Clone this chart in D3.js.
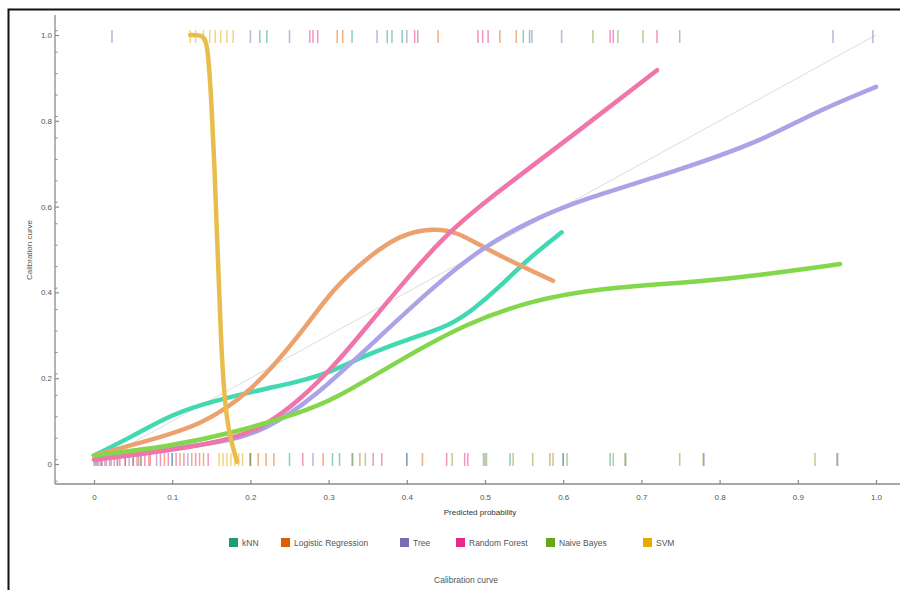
<!DOCTYPE html>
<html>
<head>
<meta charset="utf-8">
<script src="https://cdn.jsdelivr.net/npm/d3@7"></script>
<style>
  html, body { margin: 0; padding: 0; background: #fff; }
  svg { display: block; font-family: "Liberation Sans", Arial, sans-serif; }
</style>
</head>
<body>
<svg id="chart" width="900" height="590"></svg>
<script>
// Model names and colours
const models = ["kNN", "Logistic Regression", "Tree", "Random Forest", "Naive Bayes", "SVM"];
const swatchColors = ["#1b9e77", "#d95f02", "#7570b3", "#e7298a", "#66a61e", "#e6ab02"];
const curveColors  = ["#40d9b1", "#eca26f", "#aaa4e7", "#ef75ab", "#84d74d", "#e9bd4d"];

// Smoothed calibration curves: predicted probability (x) vs observed frequency (y)
const knnX  = [0, 0.05, 0.1, 0.157, 0.221, 0.263, 0.3, 0.349, 0.4, 0.455, 0.485, 0.519, 0.553, 0.598];
const knnY  = [0.02, 0.065, 0.117, 0.149, 0.176, 0.193, 0.212, 0.255, 0.29, 0.322, 0.36, 0.413, 0.475, 0.54];
const lrX   = [0, 0.072, 0.136, 0.2, 0.263, 0.306, 0.349, 0.391, 0.434, 0.464, 0.497, 0.541, 0.587];
const lrY   = [0.02, 0.056, 0.09, 0.165, 0.3, 0.41, 0.48, 0.535, 0.55, 0.541, 0.506, 0.466, 0.427];
const treeX = [0, 0.093, 0.178, 0.22, 0.276, 0.37, 0.434, 0.497, 0.561, 0.621, 0.749, 0.856, 0.919, 1.0];
const treeY = [0.02, 0.033, 0.055, 0.082, 0.145, 0.305, 0.413, 0.506, 0.569, 0.615, 0.685, 0.755, 0.818, 0.879];
const rfX   = [0, 0.093, 0.178, 0.22, 0.263, 0.306, 0.349, 0.391, 0.447, 0.502, 0.621, 0.72];
const rfY   = [0.01, 0.03, 0.058, 0.09, 0.149, 0.226, 0.32, 0.413, 0.53, 0.615, 0.778, 0.918];
const nbX   = [0, 0.093, 0.178, 0.263, 0.306, 0.391, 0.477, 0.561, 0.647, 0.775, 0.85, 0.954];
const nbY   = [0.02, 0.04, 0.072, 0.119, 0.149, 0.242, 0.329, 0.382, 0.41, 0.425, 0.44, 0.466];
const svmX  = [0.123, 0.135, 0.142, 0.146, 0.15, 0.154, 0.158, 0.162, 0.167, 0.174, 0.183];
const svmY  = [1.0, 1.0, 0.995, 0.96, 0.85, 0.7, 0.5, 0.3, 0.14, 0.06, 0.005];

// Rug marks: predicted probabilities of positive (top) and negative (bottom) cases
const knnTop  = [0.212, 0.221, 0.33, 0.375, 0.381, 0.394, 0.549, 0.557];
const lrTop   = [0.311, 0.318, 0.44, 0.519, 0.54];
const treeTop = [0.023, 0.2, 0.25, 0.362, 0.4, 0.56, 0.598, 0.749, 0.945, 0.996];
const rfTop   = [0.276, 0.28, 0.286, 0.41, 0.414, 0.491, 0.497, 0.504, 0.66, 0.664, 0.72];
const nbTop   = [0.638, 0.67, 0.702];
const svmTop  = [0.123, 0.13, 0.14, 0.148, 0.155, 0.162, 0.17, 0.178];

const knnBot  = [0.005, 0.05, 0.1, 0.25, 0.305, 0.314, 0.4, 0.532, 0.6, 0.66];
const lrBot   = [0.04, 0.055, 0.07, 0.09, 0.11, 0.125, 0.135, 0.14, 0.2, 0.21, 0.22, 0.23, 0.293, 0.34, 0.42, 0.583];
const treeBot = [0, 0.004, 0.01, 0.016, 0.022, 0.03, 0.045, 0.06, 0.08, 0.1, 0.12, 0.2, 0.28, 0.33, 0.4, 0.5, 0.6, 0.68, 0.78, 0.95];
const rfBot   = [0.002, 0.008, 0.014, 0.02, 0.026, 0.033, 0.04, 0.05, 0.057, 0.065, 0.072, 0.085, 0.095, 0.105, 0.115, 0.13, 0.146, 0.267, 0.357, 0.368, 0.451, 0.474, 0.478];
const nbBot   = [0.01, 0.03, 0.06, 0.2, 0.331, 0.347, 0.458, 0.498, 0.502, 0.536, 0.561, 0.587, 0.605, 0.664, 0.679, 0.749, 0.779, 0.922, 0.951];
const svmBot  = [0.16, 0.165, 0.17, 0.175, 0.18, 0.185, 0.19];

// Axis ticks
const xTicks = [0, 0.1, 0.2, 0.3, 0.4, 0.5, 0.6, 0.7, 0.8, 0.9, 1.0];
const xTickLabels = ["0", "0.1", "0.2", "0.3", "0.4", "0.5", "0.6", "0.7", "0.8", "0.9", "1.0"];
const yTicks = [0, 0.2, 0.4, 0.6, 0.8, 1.0];
const yTickLabels = ["0", "0.2", "0.4", "0.6", "0.8", "1.0"];

const curves = [[knnX, knnY], [lrX, lrY], [treeX, treeY], [rfX, rfY], [nbX, nbY], [svmX, svmY]];
const topRugs = [knnTop, lrTop, treeTop, rfTop, nbTop, svmTop];
const botRugs = [knnBot, lrBot, treeBot, rfBot, nbBot, svmBot];

const svg = d3.select("#chart");

// Outer frame
svg.append("rect")
  .attr("x", 8.5).attr("y", 9.5)
  .attr("width", 920).attr("height", 620)
  .attr("fill", "none").attr("stroke", "#111").attr("stroke-width", 2);

const x = d3.scaleLinear().domain([0, 1]).range([94, 876]);
const y = d3.scaleLinear().domain([0, 1]).range([464, 35]);

const axisX0 = 55;    // position of the vertical axis
const axisY0 = 484;   // position of the horizontal axis
const axisColor = "#8a8a8a";
const textColor = "#555";

// Horizontal axis
const xAxis = svg.append("g").attr("transform", `translate(0,${axisY0})`)
  .call(d3.axisBottom(x).tickValues(xTicks).tickFormat((d, i) => xTickLabels[i]).tickSize(4).tickSizeOuter(0));
xAxis.select(".domain").remove();
xAxis.append("line").attr("x1", axisX0).attr("x2", 900).attr("stroke", axisColor).attr("stroke-width", 1.3);
xAxis.selectAll(".tick line").attr("y1", -4).attr("y2", 0).attr("stroke", axisColor).attr("stroke-width", 1.2);
xAxis.selectAll(".tick text").attr("fill", textColor).attr("font-size", 8).attr("dy", "1.1em")
  .attr("font-family", "Liberation Sans, Arial, sans-serif");

// Vertical axis
const yAxis = svg.append("g").attr("transform", `translate(${axisX0},0)`)
  .call(d3.axisLeft(y).tickValues(yTicks).tickFormat((d, i) => yTickLabels[i]).tickSize(4).tickSizeOuter(0));
yAxis.select(".domain").remove();
yAxis.append("line").attr("y1", 15).attr("y2", axisY0).attr("stroke", axisColor).attr("stroke-width", 1.3);
yAxis.selectAll(".tick line").attr("x1", 0).attr("x2", 4).attr("stroke", axisColor).attr("stroke-width", 1.2);
yAxis.selectAll(".tick text").attr("fill", textColor).attr("font-size", 8).attr("x", -3)
  .attr("font-family", "Liberation Sans, Arial, sans-serif");

// Minor ticks on the vertical axis
const yMinor = d3.range(-0.04, 1.04, 0.05).filter(v => yTicks.every(t => Math.abs(t - v) > 1e-6) && v > -0.045);
svg.append("g").selectAll("line").data(yMinor).join("line")
  .attr("x1", axisX0).attr("x2", axisX0 + 2.5)
  .attr("y1", d => y(d)).attr("y2", d => y(d))
  .attr("stroke", axisColor).attr("stroke-width", 1);

// Axis titles
svg.append("text").attr("x", 480).attr("y", 515).attr("text-anchor", "middle")
  .attr("font-size", 8).attr("fill", "#333").text("Predicted probability");
svg.append("text").attr("transform", "translate(32,250) rotate(-90)").attr("text-anchor", "middle")
  .attr("font-size", 8).attr("fill", "#555").text("Calibration curve");

// Ideal calibration diagonal
svg.append("line")
  .attr("x1", x(0)).attr("y1", y(0)).attr("x2", x(1)).attr("y2", y(1))
  .attr("stroke", "#dcdcdc").attr("stroke-width", 1);

// Rug marks
const rugG = svg.append("g");
models.forEach((m, i) => {
  rugG.append("g").selectAll("line").data(topRugs[i]).join("line")
    .attr("x1", d => x(d)).attr("x2", d => x(d))
    .attr("y1", y(1) - 5).attr("y2", y(1) + 8)
    .attr("stroke", swatchColors[i]).attr("stroke-opacity", 0.5).attr("stroke-width", 1.5);
  rugG.append("g").selectAll("line").data(botRugs[i]).join("line")
    .attr("x1", d => x(d)).attr("x2", d => x(d))
    .attr("y1", y(0) - 11).attr("y2", y(0) + 2)
    .attr("stroke", swatchColors[i]).attr("stroke-opacity", 0.5).attr("stroke-width", 1.5);
});

// Calibration curves, drawn as smooth B-splines through the fitted points
const bspline = d3.line().x(d => x(d[0])).y(d => y(d[1])).curve(d3.curveBasis);
curves.forEach(([xs, ys], i) => {
  const pts = xs.map((v, k) => [v, ys[k]]);
  svg.append("path").datum(pts)
    .attr("d", bspline)
    .attr("fill", "none")
    .attr("stroke", curveColors[i])
    .attr("stroke-width", 4.5)
    .attr("stroke-linecap", "round")
    .attr("stroke-linejoin", "round");
});

// Legend
const legendX = [229, 281, 400, 456, 546, 643];
const legend = svg.append("g");
models.forEach((m, i) => {
  legend.append("rect").attr("x", legendX[i]).attr("y", 538).attr("width", 9).attr("height", 9)
    .attr("fill", swatchColors[i]);
  legend.append("text").attr("x", legendX[i] + 13).attr("y", 546)
    .attr("font-size", 8.5).attr("fill", "#555").text(m);
});

// Chart title
svg.append("text").attr("x", 466).attr("y", 583).attr("text-anchor", "middle")
  .attr("font-size", 8.5).attr("fill", "#555").text("Calibration curve");
</script>
</body>
</html>
